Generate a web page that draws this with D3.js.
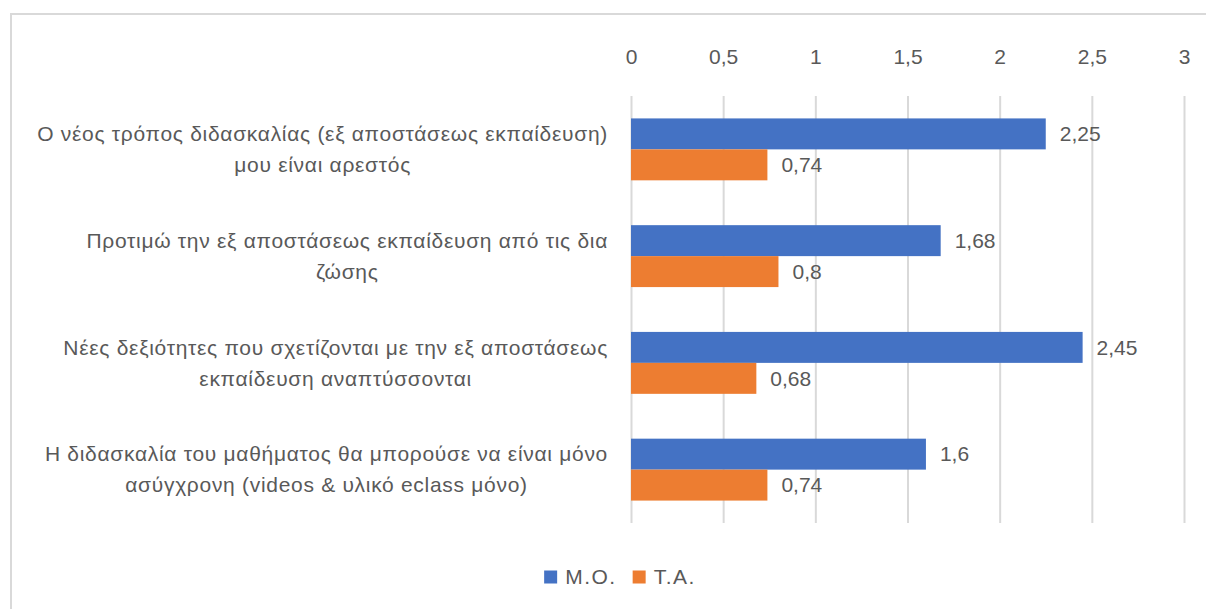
<html>
<head>
    <meta charset="utf-8">
    <style>
        body { margin: 0; background: #fff; }
        text { font-family: "Liberation Sans", Arial, sans-serif; fill: #595959; }
    </style>
    <script src="https://d3js.org/d3.v7.min.js"></script>
</head>
<body>
    <svg width="1206" height="609"></svg>
    <script>
        // data
        var categories = [
            ["Ο νέος τρόπος διδασκαλίας (εξ αποστάσεως εκπαίδευση)", "μου είναι αρεστός"],
            ["Προτιμώ την εξ αποστάσεως εκπαίδευση από τις δια", "ζώσης"],
            ["Νέες δεξιότητες που σχετίζονται με την εξ αποστάσεως", "εκπαίδευση αναπτύσσονται"],
            ["Η διδασκαλία του μαθήματος θα μπορούσε να είναι μόνο", "ασύγχρονη (videos & υλικό eclass μόνο)"]
        ];
        var seriesNames = ["Μ.Ο.", "Τ.Α."];
        var meanValues = [2.25, 1.68, 2.45, 1.6];
        var sdValues = [0.74, 0.8, 0.68, 0.74];
        var tickValues = [0, 0.5, 1, 1.5, 2, 2.5, 3];
        var colors = ["#4472C4", "#ED7D31"];

        var svg = d3.select("svg");
        var fontSize = 21;

        // chart border
        svg.append("rect")
           .attr("x", 11).attr("y", 14)
           .attr("width", 1300).attr("height", 700)
           .attr("fill", "none")
           .attr("stroke", "#d9d9d9")
           .attr("stroke-width", 2);

        var plotTop = 96, plotBottom = 523;
        var x = d3.scaleLinear().domain([0, 3]).range([631, 1184]);
        var y = d3.scaleBand()
                  .domain(d3.range(categories.length))
                  .range([plotTop, plotBottom])
                  .paddingInner(0.42)
                  .paddingOuter(0.21);
        var ySub = d3.scaleBand().domain([0, 1]).range([0, y.bandwidth()]);

        var fmt = function(d) { return String(d).replace(".", ","); };

        // gridlines
        var grid = svg.append("g")
                      .attr("transform", "translate(0," + plotBottom + ")")
                      .call(d3.axisBottom(x).tickValues(tickValues).tickSize(-(plotBottom - plotTop)).tickFormat(""));
        grid.select(".domain").remove();
        grid.selectAll("line").attr("stroke", "#d9d9d9").attr("stroke-width", 2);

        // top tick labels
        var ax = svg.append("g")
                    .attr("transform", "translate(0,57)")
                    .call(d3.axisTop(x).tickValues(tickValues).tickSize(0).tickFormat(fmt));
        ax.select(".domain").remove();
        ax.selectAll("text")
          .attr("y", 0).attr("dy", "0.35em")
          .attr("font-size", fontSize)
          .attr("font-family", null)
          .attr("fill", "#595959");

        // bars
        var series = [meanValues, sdValues];
        series.forEach(function(vals, s) {
            var g = svg.append("g");
            g.selectAll("rect")
             .data(vals)
             .enter().append("rect")
             .attr("x", x(0))
             .attr("y", function(d, i) { return y(i) + ySub(s); })
             .attr("width", function(d) { return x(d) - x(0); })
             .attr("height", ySub.bandwidth())
             .attr("fill", colors[s]);
            g.selectAll("text")
             .data(vals)
             .enter().append("text")
             .attr("x", function(d) { return x(d) + 14; })
             .attr("y", function(d, i) { return y(i) + ySub(s) + ySub.bandwidth() / 2; })
             .attr("dy", "0.35em")
             .attr("font-size", fontSize)
             .text(fmt);
        });

        // category labels
        var labelRight = 608;
        var lineGap = 31;
        categories.forEach(function(lines, i) {
            var cy = y(i) + y.bandwidth() / 2;
            var first = svg.append("text")
                           .attr("x", labelRight)
                           .attr("y", cy - lineGap / 2)
                           .attr("dy", "0.35em")
                           .attr("text-anchor", "end")
                           .attr("font-size", fontSize)
                           .attr("letter-spacing", 0.7)
                           .text(lines[0]);
            var w = first.node().getComputedTextLength();
            svg.append("text")
               .attr("x", labelRight - w / 2)
               .attr("y", cy + lineGap / 2)
               .attr("dy", "0.35em")
               .attr("text-anchor", "middle")
               .attr("font-size", fontSize)
               .attr("letter-spacing", 0.7)
               .text(lines[1]);
        });

        // legend
        var legend = svg.append("g").attr("transform", "translate(0,577)");
        var items = legend.selectAll("g")
                          .data(seriesNames)
                          .enter().append("g");
        items.append("rect")
             .attr("width", 13).attr("height", 13)
             .attr("y", -6.5)
             .attr("fill", function(d, i) { return colors[i]; });
        items.append("text")
             .attr("x", 21)
             .attr("dy", "0.35em")
             .attr("font-size", fontSize)
             .attr("letter-spacing", 1.5)
             .text(function(d) { return d; });
        var offset = 0, widths = [];
        items.each(function() { widths.push(this.getBBox().width); });
        var total = d3.sum(widths) + 16 * (widths.length - 1);
        var startX = 620 - total / 2;
        items.attr("transform", function(d, i) {
            var tx = startX + offset;
            offset += widths[i] + 16;
            return "translate(" + tx + ",0)";
        });
    </script>
</body>
</html>
